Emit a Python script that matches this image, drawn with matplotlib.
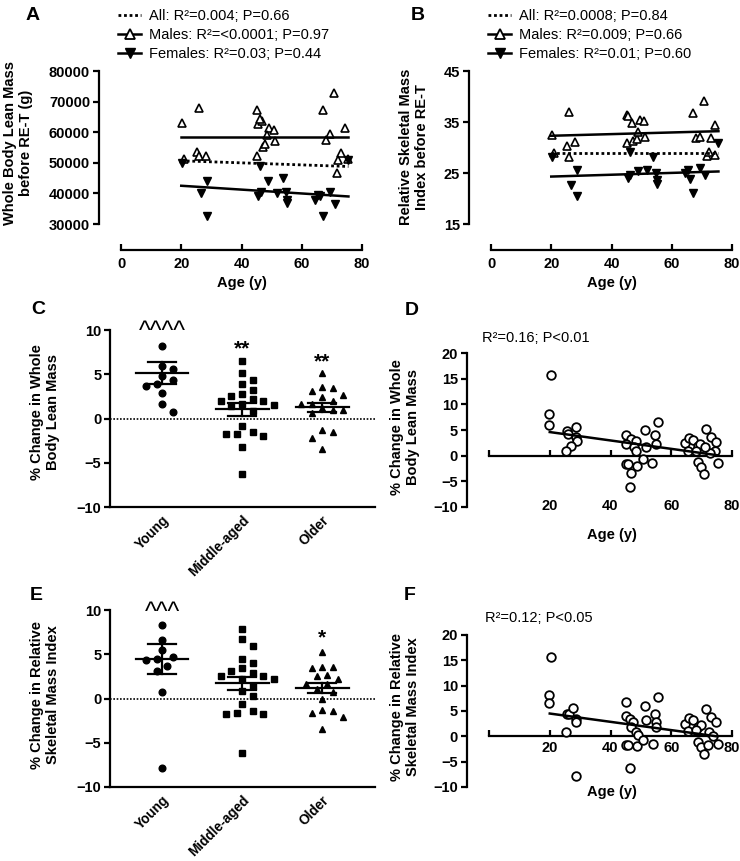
import matplotlib.pyplot as plt
from matplotlib.lines import Line2D
import numpy as np

plt.rcParams['font.family'] = ['Liberation Sans', 'DejaVu Sans']
plt.rcParams['font.weight'] = 'bold'

# ---- panel A / B : before RE-T vs age ----
a_male_age = [20.2, 26.0, 20.8, 25.2, 26.0, 28.1, 45.0, 45.6, 46.9, 46.0, 45.0, 49.2, 48.3,
              47.2, 47.9, 50.9, 51.2, 66.9, 70.8, 69.3, 68.2, 74.3, 73.1, 71.7, 72.1, 75.2]
a_male_lbm = [63100, 67800, 51300, 53400, 52300, 52300, 67300, 62600, 63700, 64300, 52100, 61300, 59100,
              55300, 56100, 60800, 57000, 67300, 72700, 59300, 57500, 61300, 53200, 46600, 51000, 51200]
a_fem_age = [20.2, 28.5, 26.6, 28.5, 45.4, 46.5, 46.1, 48.7, 51.7, 53.9, 54.7, 55.0, 55.2,
             64.3, 65.4, 65.9, 66.9, 69.3, 71.0, 75.2]
a_fem_lbm = [49900, 43900, 40100, 32500, 39000, 40600, 48800, 43900, 40100, 45000, 40300, 37900, 36800,
             37900, 39600, 39000, 32700, 40300, 36600, 51000]
a_fit_x = [20, 75.5]
a_fit_all = [50650, 48800]
a_fit_male = [58400, 58400]
a_fit_fem = [42500, 39000]
a_legend = ["All: R²=0.004; P=0.66", "Males: R²=<0.0001; P=0.97", "Females: R²=0.03; P=0.44"]

b_male_age = [20.2, 20.8, 26.0, 25.2, 26.0, 27.9, 45.0, 45.6, 46.7, 45.0, 47.2, 48.3, 48.9,
              49.4, 50.9, 51.2, 66.9, 70.8, 68.0, 69.3, 74.3, 73.1, 71.8, 74.3, 72.4]
b_male_smi = [32.5, 29.0, 36.9, 30.2, 28.2, 31.0, 36.4, 36.1, 34.8, 30.8, 31.2, 31.6, 33.1,
              35.4, 35.1, 32.1, 36.8, 39.2, 31.8, 32.0, 34.4, 31.8, 28.4, 28.6, 29.2]
b_fem_age = [20.2, 28.5, 26.6, 28.5, 45.4, 46.1, 46.1, 48.7, 51.7, 53.9, 54.7, 55.0, 55.2,
             64.3, 65.9, 66.9, 69.3, 71.0, 75.2, 65.4]
b_fem_smi = [28.2, 25.5, 22.7, 20.4, 24.0, 24.6, 29.2, 25.3, 25.5, 28.2, 25.0, 23.7, 22.8,
             25.0, 23.8, 21.1, 26.0, 24.6, 30.8, 25.6]
b_fit_x = [20, 75.5]
b_fit_all = [28.9, 28.9]
b_fit_male = [32.3, 33.2]
b_fit_fem = [24.3, 25.3]
b_legend = ["All: R²=0.0008; P=0.84", "Males: R²=0.009; P=0.66", "Females: R²=0.01; P=0.60"]

# ---- panel C / E : % change by age group ----
groups = ["Young", "Middle-aged", "Older"]
c_young = [8.15, 5.9, 5.6, 4.85, 4.4, 3.9, 3.65, 2.85, 1.6, 0.75]
c_middle = [6.55, 5.1, 4.3, 3.9, 3.25, 2.8, 2.5, 2.2, 2.0, 1.95, 1.65, 1.55, 1.45, 0.9,
            -0.8, -1.55, -1.7, -1.8, -2.0, -3.25, -6.25]
c_older = [5.1, 3.6, 3.45, 3.15, 2.6, 2.4, 2.0, 1.65, 1.6, 1.2, 0.95, 0.95, 0.6,
           -1.35, -1.55, -2.2, -3.5]
c_mean = [5.15, 1.05, 1.25]
c_sem = [1.2, 0.75, 0.55]
c_notes = ["^^^^", "**", "**"]

e_young = [8.25, 6.6, 5.45, 4.7, 4.5, 4.4, 3.65, 3.1, 0.7, -7.8]
e_middle = [7.8, 6.7, 5.9, 4.5, 4.0, 3.4, 3.1, 2.9, 2.5, 2.5, 2.2, 2.2, 1.4, 0.8, 0.3,
            -0.6, -1.4, -1.6, -1.7, -1.7, -6.2]
e_older = [5.2, 3.6, 3.6, 3.4, 2.7, 2.5, 2.15, 1.65, 1.65, 1.1, 0.75, -0.05,
           -1.35, -1.4, -1.6, -2.1, -3.45]
e_mean = [4.45, 1.7, 1.15]
e_sem = [1.7, 0.7, 0.58]
e_notes = ["^^^", "", "*"]

# ---- panel D / F : % change vs age ----
d_age = [20.4, 19.9, 19.9, 25.6, 25.9, 28.7, 28.7, 28.9, 27.1, 25.4,
         45.2, 46.6, 45.2, 48.5, 47.9, 48.5, 51.2, 51.8, 54.5, 55.6, 54.9,
         45.2, 45.7, 46.8, 48.8, 50.7, 53.8, 46.3,
         64.4, 65.9, 67.2, 65.5, 68.8, 69.6, 68.0, 71.6, 73.2, 74.6, 74.4, 72.7,
         68.8, 69.7, 70.8, 75.4, 71.0]
d_chg = [15.7, 8.1, 5.9, 4.9, 4.3, 5.6, 3.6, 2.8, 1.8, 0.85,
         4.1, 3.3, 2.3, 2.8, 1.6, 1.0, 5.0, 1.6, 4.1, 6.6, 2.3,
         -1.6, -1.6, -3.3, -2.0, -0.7, -1.4, -6.2,
         2.4, 3.5, 3.1, 1.0, 1.8, 2.3, 1.0, 5.2, 3.6, 2.6, 1.0, 0.5,
         -1.3, -2.2, -3.5, -1.5, 1.6]
d_fit_x = [20, 75]
d_fit_y = [4.6, 0.1]

f_age = [20.4, 19.9, 19.9, 25.6, 26.2, 27.8, 28.7, 28.7, 25.4, 28.5,
         45.2, 45.0, 46.3, 47.4, 46.8, 48.5, 49.0, 51.2, 51.8, 54.5, 55.6, 54.9, 54.9,
         45.2, 45.7, 46.3, 48.8, 50.7, 54.0,
         64.4, 65.9, 67.2, 65.5, 68.8, 69.7, 68.0, 71.6, 73.2, 74.6, 72.4, 73.7,
         68.8, 69.7, 70.8, 75.4, 72.0]
f_chg = [15.7, 8.25, 6.5, 4.5, 4.5, 5.5, 3.5, 2.8, 0.85, -7.9,
         6.8, 4.0, 3.4, 2.8, 1.8, 0.85, 0.2, 5.9, 3.2, 4.5, 7.8, 2.8, 1.8,
         -1.8, -1.8, -6.3, -2.0, -0.7, -1.5,
         2.5, 3.6, 3.3, 1.0, 1.8, 2.2, 1.2, 5.3, 3.8, 2.8, 0.85, 0.1,
         -1.1, -2.1, -3.4, -1.5, -1.7]
f_fit_x = [20, 75]
f_fit_y = [4.5, 0.0]

W, H = 740, 861
fig = plt.figure(figsize=(W / 100, H / 100), dpi=100)
DOT = (0, (1, 1))


def box(x0, y0, x1, y1):
    # pixel box (from top-left) -> figure fraction
    return [x0 / W, 1 - y1 / H, (x1 - x0) / W, (y1 - y0) / H]


def ftext(x, y, s, **kw):
    fig.text(x / W, 1 - y / H, s, ha='center', va='center', **kw)


def base_style(ax):
    ax.spines['top'].set_visible(False)
    ax.spines['right'].set_visible(False)
    ax.spines['left'].set_linewidth(1.6)
    ax.spines['bottom'].set_linewidth(1.6)
    ax.tick_params(labelsize=10.5, width=1.6, length=4.3, pad=2)


def before_panel(rect, male_x, male_y, fem_x, fem_y, fit_x, fit_all, fit_male, fit_fem,
                 ylim, yticks, labels, leg_x):
    ax = fig.add_axes(box(*rect))
    base_style(ax)
    ax.set_xlim(0, 80)
    ax.set_ylim(*ylim)
    ax.set_xticks([0, 20, 40, 60, 80])
    ax.set_yticks(yticks)
    ax.spines['left'].set_position(('outward', 16))
    ax.spines['bottom'].set_position(('outward', 19))
    ax.tick_params(axis='x', direction='in', pad=5)
    ax.plot(male_x, male_y, ls='none', marker='^', ms=6.3, mfc='white', mec='k', mew=1.2, clip_on=False)
    ax.plot(fem_x, fem_y, ls='none', marker='v', ms=6.3, color='k', clip_on=False)
    ax.plot(fit_x, fit_all, color='k', ls=DOT, lw=2)
    ax.plot(fit_x, fit_male, color='k', lw=1.8)
    ax.plot(fit_x, fit_fem, color='k', lw=1.8)
    handles = [Line2D([], [], color='k', ls=DOT, lw=2),
               Line2D([], [], color='k', lw=1.8, marker='^', ms=7, mfc='white', mec='k', mew=1.3),
               Line2D([], [], color='k', lw=1.8, marker='v', ms=7)]
    fig.legend(handles, labels, loc='upper left', bbox_to_anchor=(leg_x / W, 1 - 9 / H),
               frameon=False, prop={'size': 10.5, 'weight': 'normal'}, handlelength=1.6,
               handletextpad=0.55, labelspacing=0.33, borderpad=0, borderaxespad=0)
    return ax


def swarm(vals, ypx, step=5.3, wx=10.6, wy=9.0):
    # simple beeswarm: shift a point sideways until it no longer overlaps earlier ones
    placed = []
    offs = []
    cands = [0]
    for i in range(1, 14):
        cands += [i, -i]
    for v in vals:
        y = v * ypx
        for k in cands:
            x = k * step
            if all(((x - px) / wx) ** 2 + ((y - py) / wy) ** 2 >= 0.98 for px, py in placed):
                break
        placed.append((x, y))
        offs.append(x)
    return np.array(offs)


def dot_panel(rect, data, means, sems, notes, note_y):
    ax = fig.add_axes(box(*rect))
    base_style(ax)
    ax.set_xlim(-0.65, 2.66)
    ax.set_ylim(-10, 10)
    ax.set_yticks([-10, -5, 0, 5, 10])
    xpx = (rect[2] - rect[0]) / 3.31
    ypx = (rect[3] - rect[1]) / 20.0
    ax.axhline(0, color='k', ls=DOT, lw=1.2, zorder=1)
    for i, (vals, mk) in enumerate(zip(data, ['o', 's', '^'])):
        offs = swarm(vals, ypx) / xpx
        ax.plot(i + offs, vals, ls='none', marker=mk, ms=4.8, color='k', zorder=3)
        m, s = means[i], sems[i]
        ax.plot([i - 0.33, i + 0.33], [m, m], color='k', lw=1.6, zorder=4)
        ax.plot([i - 0.175, i + 0.175], [m + s, m + s], color='k', lw=1.6, zorder=4)
        ax.plot([i - 0.175, i + 0.175], [m - s, m - s], color='k', lw=1.6, zorder=4)
        ax.plot([i, i], [m - s, m + s], color='k', lw=1.6, zorder=4)
        if notes[i].startswith('^'):
            ax.text(i, note_y[i], notes[i], ha='center', va='baseline', fontsize=18,
                    fontweight='normal', clip_on=False)
        elif notes[i]:
            ax.text(i, note_y[i], notes[i], ha='center', va='baseline', fontsize=15,
                    clip_on=False)
    ax.set_xticks([0, 1, 2])
    ax.set_xticklabels(groups, rotation=45, ha='right', rotation_mode='anchor', fontsize=9.8)
    ax.tick_params(axis='x', length=0, pad=4.5)
    return ax


def change_panel(rect, age, chg, fit_x, fit_y, label_pad):
    ax = fig.add_axes(box(*rect))
    base_style(ax)
    ax.set_xlim(0, 80)
    ax.set_ylim(-10, 20)
    ax.set_yticks([-10, -5, 0, 5, 10, 15, 20])
    ax.set_xticks([0, 20, 40, 60, 80])
    ax.set_xticklabels(['', '20', '40', '60', '80'])
    ax.spines['left'].set_position(('outward', 16))
    ax.spines['bottom'].set_position(('data', 0))
    ax.spines['bottom'].set_bounds(0, 80)
    ax.tick_params(axis='x', direction='in', length=4, pad=label_pad)
    ax.plot(age, chg, ls='none', marker='o', ms=6.2, mfc='white', mec='k', mew=1.3, zorder=3)
    ax.plot(fit_x, fit_y, color='k', lw=1.8, zorder=4)
    return ax


before_panel((121, 71, 362, 224), a_male_age, a_male_lbm, a_fem_age, a_fem_lbm,
             a_fit_x, a_fit_all, a_fit_male, a_fit_fem, (30000, 80000),
             [30000, 40000, 50000, 60000, 70000, 80000], a_legend, 118)
before_panel((491, 71, 732, 224), b_male_age, b_male_smi, b_fem_age, b_fem_smi,
             b_fit_x, b_fit_all, b_fit_male, b_fit_fem, (15, 45),
             [15, 25, 35, 45], b_legend, 488)
dot_panel((110, 330, 375, 507), [c_young, c_middle, c_older], c_mean, c_sem, c_notes, [9.0, 7.3, 5.8])
dot_panel((110, 610, 375, 787), [e_young, e_middle, e_older], e_mean, e_sem, e_notes, [8.9, 0, 6.2])
change_panel((489, 353, 732, 507), d_age, d_chg, d_fit_x, d_fit_y, 31)
change_panel((489, 635, 732, 787), f_age, f_chg, f_fit_x, f_fit_y, 3)

# labels
ftext(33, 15, "A", fontsize=14)
ftext(418, 15, "B", fontsize=14)
ftext(38, 310, "C", fontsize=14)
ftext(412, 311, "D", fontsize=14)
ftext(36, 595, "E", fontsize=14)
ftext(410, 595, "F", fontsize=14)

ftext(18, 143, "Whole Body Lean Mass\nbefore RE-T (g)", rotation=90, fontsize=10.5, linespacing=1.1)
ftext(414, 147, "Relative Skeletal Mass\nIndex before RE-T", rotation=90, fontsize=10.5, linespacing=1.1)
ftext(45, 412, "% Change in Whole\nBody Lean Mass", rotation=90, fontsize=10.5, linespacing=1.1)
ftext(405, 427, "% Change in Whole\nBody Lean Mass", rotation=90, fontsize=10.5, linespacing=1.1)
ftext(45, 695, "% Change in Relative\nSkeletal Mass Index", rotation=90, fontsize=10.5, linespacing=1.1)
ftext(405, 707, "% Change in Relative\nSkeletal Mass Index", rotation=90, fontsize=10.5, linespacing=1.1)

ftext(242, 283, "Age (y)", fontsize=10.5)
ftext(612, 283, "Age (y)", fontsize=10.5)
ftext(612, 535, "Age (y)", fontsize=10.5)
ftext(612, 792, "Age (y)", fontsize=10.5)

fig.text(482 / W, 1 - 338 / H, "R²=0.16; P<0.01", ha='left', va='center', fontsize=10.5, fontweight='normal')
fig.text(485 / W, 1 - 618 / H, "R²=0.12; P<0.05", ha='left', va='center', fontsize=10.5, fontweight='normal')

fig.savefig("out.png", dpi=100)
